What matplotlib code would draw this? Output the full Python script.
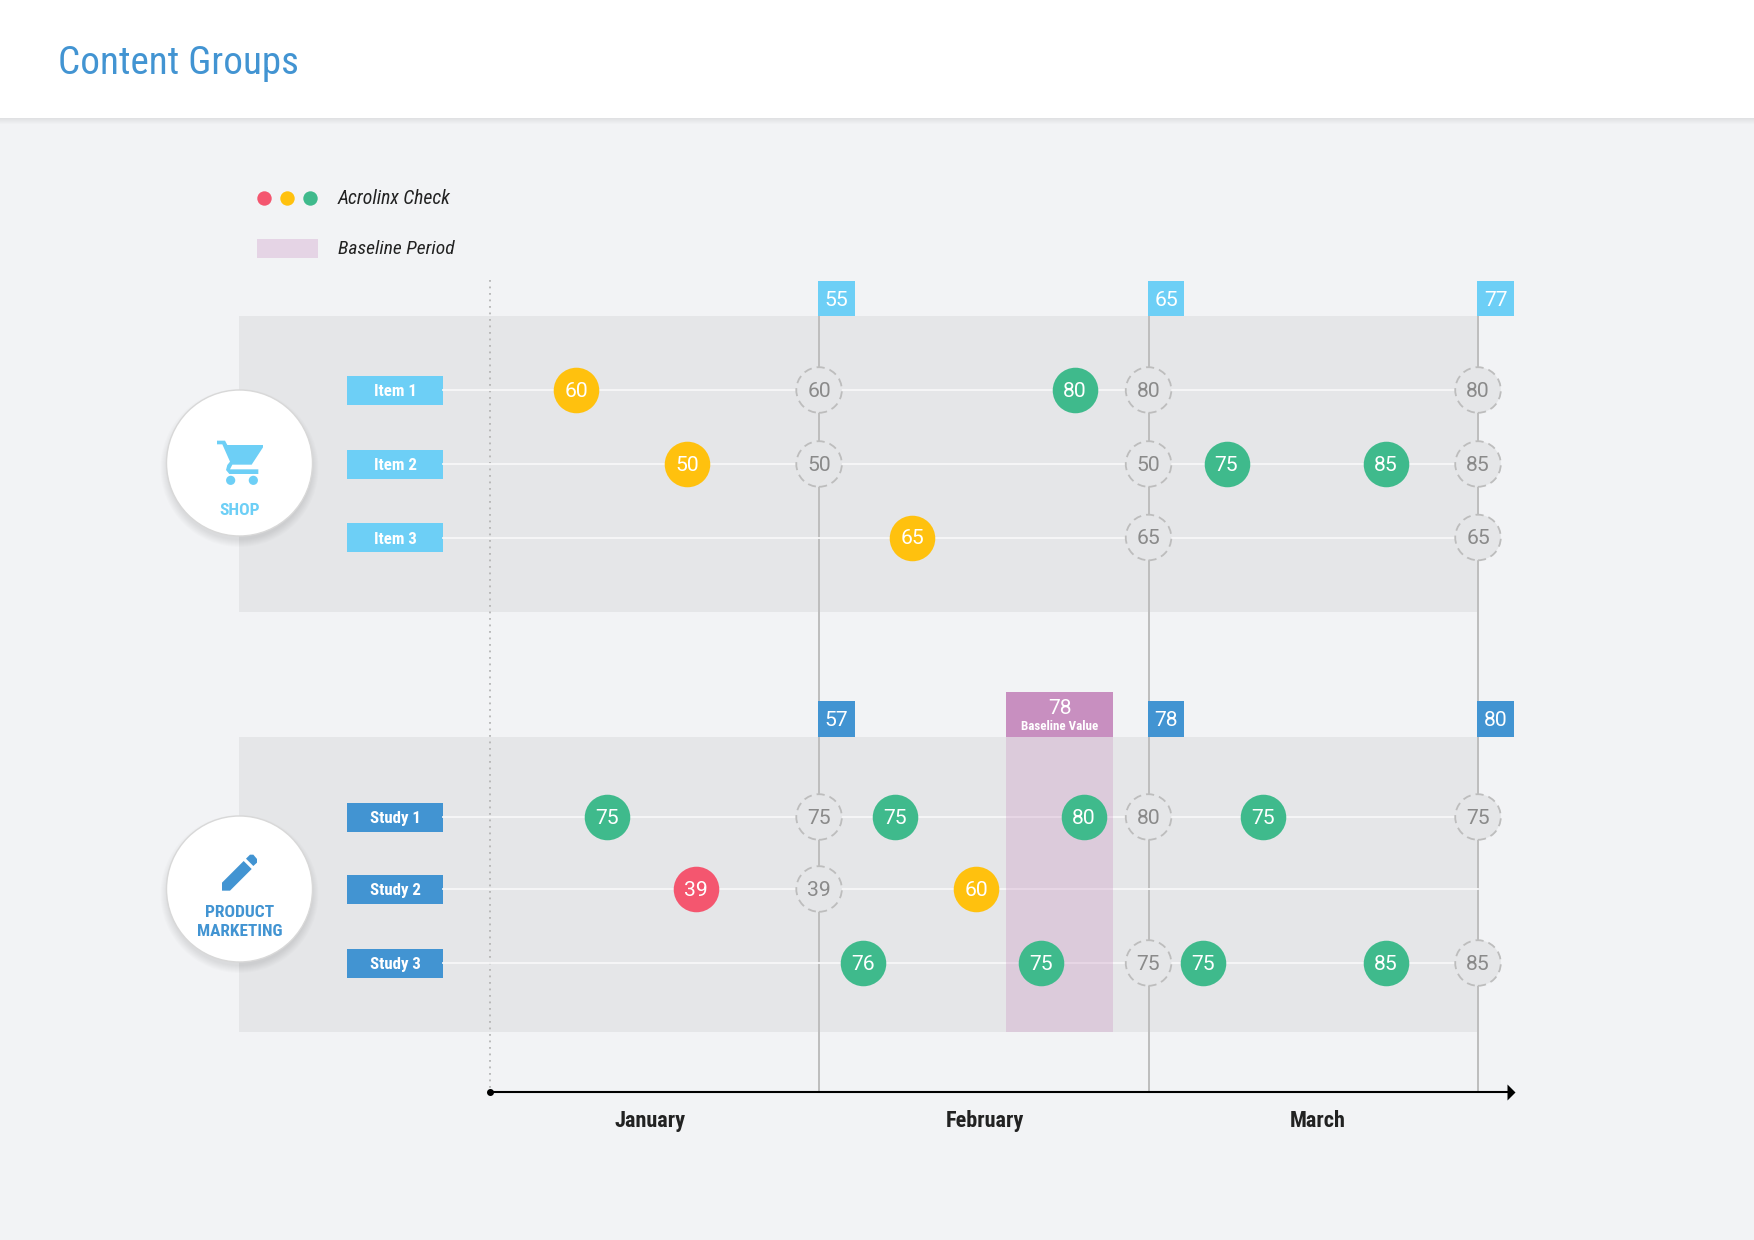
import matplotlib
matplotlib.use("Agg")
import matplotlib.pyplot as plt
from matplotlib.patches import Rectangle, Circle, Polygon
import logging
logging.getLogger("matplotlib.font_manager").setLevel(logging.ERROR)

# ---------- data ----------
months = ["January", "February", "March"]
month_ends = [30, 60, 90]
shop_rows = ["Item 1", "Item 2", "Item 3"]
pm_rows = ["Study 1", "Study 2", "Study 3"]
shop_flags = [55, 65, 77]
pm_flags = [57, 78, 80]
baseline_value = 78
baseline_start, baseline_end = 47.0, 56.8

# (day, score) checks per row
item1 = [(7.9, 60), (53.3, 80)]
item2 = [(18.0, 50), (67.1, 75), (81.6, 85)]
item3 = [(38.5, 65)]
study1 = [(10.7, 75), (36.9, 75), (54.1, 80), (70.4, 75)]
study2 = [(18.8, 39), (44.3, 60)]
study3 = [(34.0, 76), (50.2, 75), (65.0, 75), (81.6, 85)]
# month-end carried scores (None = no check)
item1_end = [60, 80, 80]
item2_end = [50, 50, 85]
item3_end = [None, 65, 65]
study1_end = [75, 80, 75]
study2_end = [39, None, None]
study3_end = [None, 75, 85]

# ---------- style ----------
W, H = 1754, 1240
BG = "#f2f3f5"; BAND = "#e5e6e8"; LIGHT = "#6dcff6"; BLUE = "#4294d2"
RED = "#f4566f"; YEL = "#ffc10e"; GRN = "#3fba8c"; PUR = "#c88fc0"; GRY = "#bdbdbd"
COND = ["Roboto Condensed", "Liberation Sans Narrow", "Roboto"]
REG = ["Roboto", "DejaVu Sans"]
NUM = 15.2

def col(v):
    return RED if v < 40 else (YEL if v < 70 else GRN)

fig = plt.figure(figsize=(W / 100, H / 100), dpi=100, facecolor=BG)
deco = fig.add_axes([0, 0, 1, 1], zorder=1)
deco.set_xlim(0, W); deco.set_ylim(H, 0); deco.axis("off")
X0, X1 = 489.6, 1478.0
ax = fig.add_axes([X0 / W, 0, (X1 - X0) / W, 1], zorder=2)
ax.set_xlim(0, 90); ax.set_ylim(H, 0); ax.axis("off"); ax.patch.set_alpha(0)

# header
for i in range(6):
    deco.add_patch(Rectangle((0, 118), W, 6 - i, fc="#000000", alpha=0.012, lw=0))
deco.add_patch(Rectangle((0, 0), W, 118, fc="white", lw=0))
deco.text(58.5, 63, "Content Groups", color=BLUE, fontsize=28.2, family=COND, va="center", ha="left")

# legend
for x, c in zip((264.5, 287.5, 310.5), (RED, YEL, GRN)):
    deco.add_patch(Circle((x, 198.5), 7.2, fc=c, lw=0))
deco.add_patch(Rectangle((257, 238.5), 61, 19.5, fc=PUR, alpha=0.3, lw=0))
deco.text(338, 199, "Acrolinx Check", style="italic", fontsize=14.2, family=COND, color="#222222", va="center")
deco.text(338, 249, "Baseline Period", style="italic", fontsize=14.0, family=COND, color="#222222", va="center")

# bands
TOPS = [(316, 612), (737, 1032)]
for t, b in TOPS:
    deco.add_patch(Rectangle((239, t), X1 - 239, b - t, fc=BAND, lw=0))

groups = [
    dict(rows=shop_rows, ys=[390, 464, 537.5], c=LIGHT, flags=shop_flags, flag_top=281, flag_bot=316,
         pts=[item1, item2, item3], ends=[item1_end, item2_end, item3_end], cy=463),
    dict(rows=pm_rows, ys=[817, 889, 963], c=BLUE, flags=pm_flags, flag_top=701, flag_bot=737,
         pts=[study1, study2, study3], ends=[study1_end, study2_end, study3_end], cy=889),
]

# big circles with soft shadow
for g in groups:
    for i in range(8):
        deco.add_patch(Circle((239.5, g["cy"] + 5), 79 - i, fc="#000000", alpha=0.012, lw=0))
    deco.add_patch(Circle((239.5, g["cy"]), 73, fc="white", ec="#d8d8d8", lw=1.0))

# icons (drawn in reference zoom coordinates)
def zoomed(pts, ox, oy):
    return [(ox + a / 3, oy + b / 3) for a, b in pts]

cart = [(231, 842), (255, 842), (262, 855), (369, 855), (369, 862), (335, 914), (277, 914), (270, 928),
        (355, 928), (355, 942), (268, 942), (258, 930), (262, 915), (270, 905), (247, 853), (231, 853)]
deco.add_patch(Polygon(zoomed(cart, 140, 160), fc=LIGHT, lw=0))
for wx in (272, 340):
    deco.add_patch(Circle((140 + wx / 3, 160 + 961 / 3), 4.6, fc=LIGHT, lw=0))
body = [(246, 632), (246, 608), (311, 543), (335, 567), (270, 632)]
eraser = [(318, 536), (330, 524), (340, 524), (351, 537), (351, 548), (340, 558)]
deco.add_patch(Polygon(zoomed(body, 140, 680), fc=BLUE, lw=0))
deco.add_patch(Polygon(zoomed(eraser, 140, 680), fc=BLUE, lw=0))
deco.text(240, 510.5, "SHOP", color=LIGHT, fontsize=12.6, weight="bold", family=COND, ha="center", va="center")
deco.text(240, 912.5, "PRODUCT", color=BLUE, fontsize=12.6, weight="bold", family=COND, ha="center", va="center")
deco.text(240, 931.5, "MARKETING", color=BLUE, fontsize=12.4, weight="bold", family=COND, ha="center", va="center")

# row labels
for g in groups:
    for y, lab in zip(g["ys"], g["rows"]):
        deco.add_patch(Rectangle((347, y - 14.5), 96, 29, fc=g["c"], lw=0))
        deco.text(395, y + 2, lab, color="white", fontsize=12.2, weight="bold", family=COND,
                  ha="center", va="center")

# time axis and guides
ax.plot([0, 0], [280, 1092], color="#b5b5b5", lw=1.3, ls=(0, (1, 2.6)), clip_on=False, zorder=1)
for m in month_ends:
    ax.plot([m, m], [316, 1092], color=GRY, lw=1.4, clip_on=False, zorder=1.5)
ax.plot([0, 92.8], [1092, 1092], color="black", lw=1.5, clip_on=False, zorder=3)
ax.scatter([0], [1092], s=16, color="black", clip_on=False, zorder=3)
ax.scatter([93.0], [1092], s=133, marker=[(-0.5, -1), (0.5, 0), (-0.5, 1)], color="black", lw=0,
           clip_on=False, zorder=3)
for name, cx in zip(months, (14.6, 45.1, 75.4)):
    ax.text(cx, 1121, name, fontsize=16, weight="bold", family=COND, color="#222222", ha="center", va="center")

# row lines
for g in groups:
    for y in g["ys"]:
        ax.plot([-4.25, 90], [y, y], color="#f7f7f8", lw=1.3, clip_on=False, zorder=2)

# baseline period
ax.add_patch(Rectangle((baseline_start, 737), baseline_end - baseline_start, 295, fc=PUR, alpha=0.3, lw=0, zorder=2.5))
ax.add_patch(Rectangle((baseline_start, 692), baseline_end - baseline_start, 45, fc=PUR, lw=0, zorder=2.5))
mid = (baseline_start + baseline_end) / 2
ax.text(mid, 709, str(baseline_value), color="white", fontsize=NUM, family=REG, ha="center", va="center", zorder=6)
ax.text(mid, 727, "Baseline Value", color="white", fontsize=9.4, weight="bold", family=COND, ha="center", va="center", zorder=6)

# flags
for g in groups:
    for m, v in zip(month_ends, g["flags"]):
        ax.add_patch(Rectangle((m - 0.06, g["flag_top"]), 3.3, g["flag_bot"] - g["flag_top"], fc=g["c"], lw=0,
                               clip_on=False, zorder=4))
        ax.text(m + 1.6, (g["flag_top"] + g["flag_bot"]) / 2 + 1.5, str(v), color="white", fontsize=NUM, family=REG,
                ha="center", va="center", zorder=6, clip_on=False)

# checks
S = 32.8 ** 2
for g in groups:
    for y, pts, ends in zip(g["ys"], g["pts"], g["ends"]):
        for d, v in pts:
            ax.scatter([d], [y], s=S, color=col(v), lw=0, clip_on=False, zorder=4)
            ax.text(d, y + 1.5, str(v), color="white", fontsize=NUM, family=REG, ha="center", va="center", zorder=6)
        for m, v in zip(month_ends, ends):
            if v is None:
                continue
            ax.scatter([m], [y], s=S, facecolor=BAND, edgecolor=GRY, linewidths=1.3, linestyle=(0, (4.5, 2.8)),
                       clip_on=False, zorder=3)
            ax.text(m, y + 1.5, str(v), color="#8a8a8a", fontsize=NUM, family=REG, ha="center", va="center", zorder=6,
                    clip_on=False)

fig.savefig("out.png", dpi=100, facecolor=BG)
